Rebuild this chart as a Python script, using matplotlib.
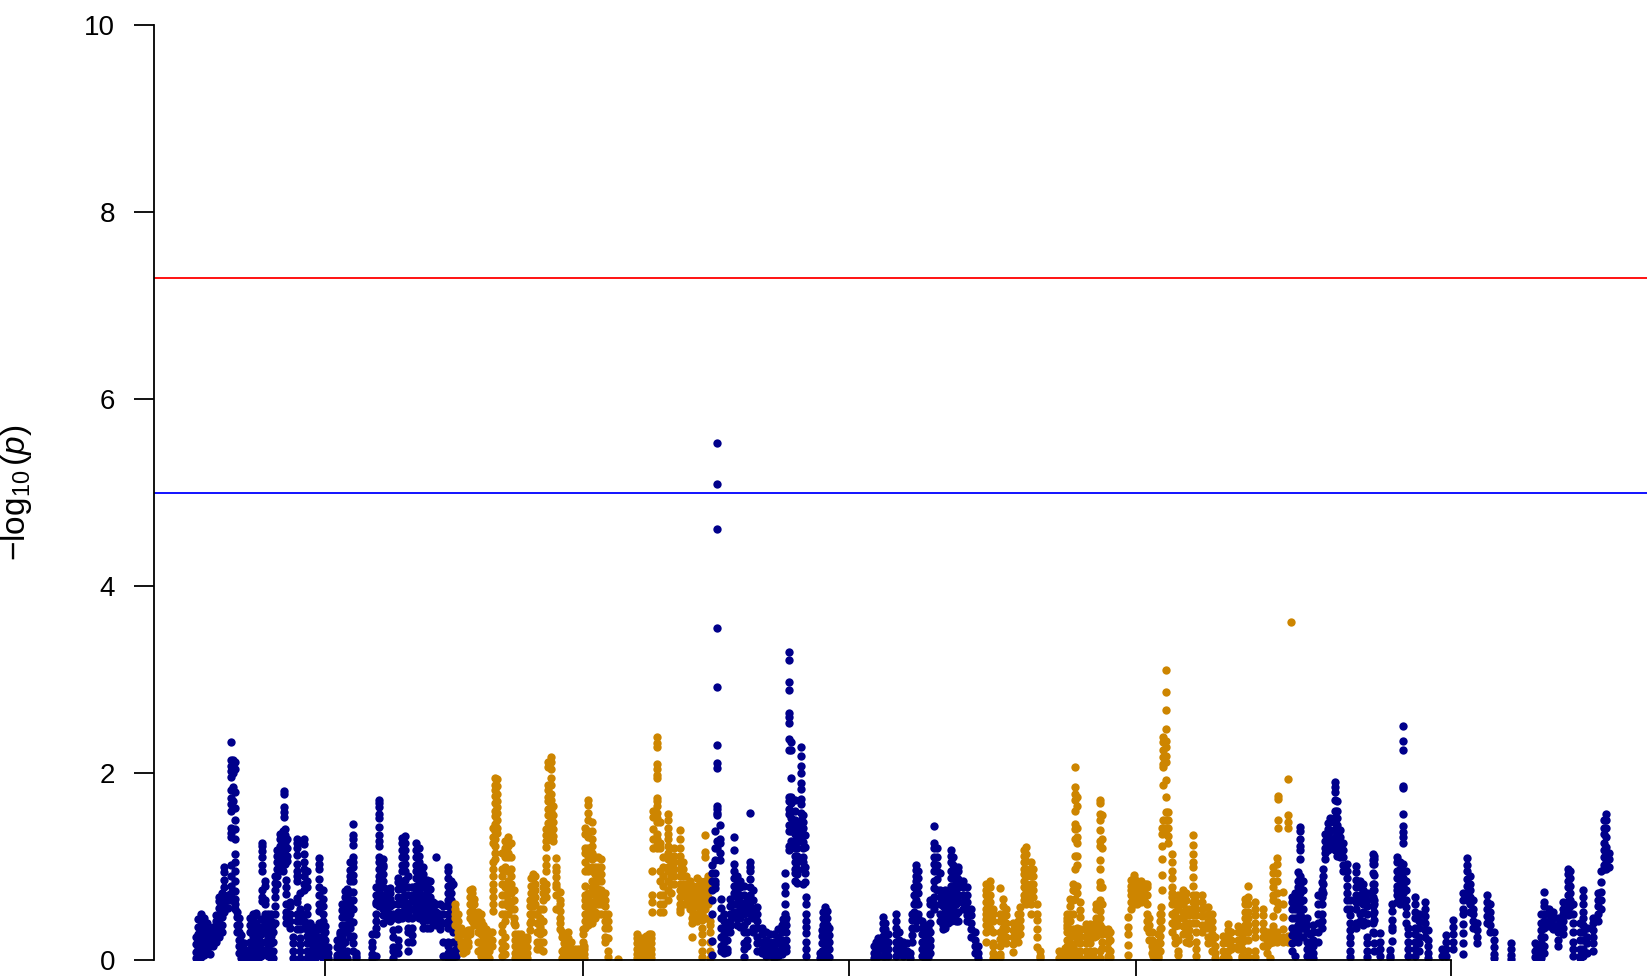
import matplotlib
matplotlib.use("Agg")
import matplotlib.pyplot as plt

plt.rcParams['font.family'] = ['Liberation Sans', 'DejaVu Sans']
plt.rcParams['mathtext.fontset'] = 'custom'
plt.rcParams['mathtext.rm'] = 'Liberation Sans'
plt.rcParams['mathtext.it'] = 'Liberation Sans:italic'
plt.rcParams['mathtext.default'] = 'regular'

NAVY = '#00008B'
GOLD = '#CD8500'
y_ticks = [0, 2, 4, 6, 8, 10]
x_ticks = [324.5, 583, 849, 1135.7, 1451]
suggestive_line = 5.0
genomewide_line = 7.30

# (position, [-log10 p values read at that position])
navy_a = [
(196,[.02,.09,.17,.25]),(198,[.03,.12,.2,.28,.36,.44]),(201,[.03,.1,.18,.26,.34,.42,.49]),(204,[.06,.14,.22,.3,.38,.45]),
(207,[.1,.18,.25,.32,.4]),(210,[.07,.15,.22,.28]),(213,[.15,.22,.3,.36]),(216,[.2,.27,.34,.42,.48]),
(219,[.25,.33,.4,.48,.56,.63,.68]),(222,[.3,.38,.46,.54,.62,.68,.72]),(224,[.52,.6,.68,.78,.86,.94,1.0]),(228,[.56,.64,.7]),
(231,[.65,.72,.8,.9,1.02,1.32,1.36,1.42,1.6,1.67,1.74,1.82,1.96,2.02,2.08,2.14,2.33]),(233,[2.14,2.0,1.85,1.7]),
(235,[.55,.6,.66,.74,.85,.95,1.05,1.14,1.3,1.4,1.5,1.63,1.8,2.05,2.12]),(237,[.3,.38,.46,.52]),(239,[.08,.15,.22,.3,.38,.45]),
(241,[.02,.08,.14,.2,.27]),(244,[.02,.06,.12,.18]),(248,[.02,.06,.1]),(250,[.05,.12,.2,.3,.38,.45]),(253,[.03,.1,.18,.26,.34,.42,.5]),
(256,[.02,.08,.16,.24,.32,.4,.48,.51]),(259,[.03,.1,.18,.26,.34]),(261,[.05,.12,.2,.28,.36,.44]),
(262,[.63,.68,.75,.95,1.02,1.1,1.17,1.22,1.25]),(265,[.1,.2,.3,.4,.5,.6,.65,.8,.85]),(268,[.05,.15,.25,.35,.45,.5]),
(271,[.02,.1,.18,.26,.34,.42,.5]),(273,[.02,.1,.2,.3,.38]),(275,[.4,.5,.58,.68,.75,.83,.9]),(277,[.82,.9,.98,1.05,1.12,1.18]),
(280,[1.0,1.08,1.15,1.22,1.3,1.35]),(283,[.95,1.02,1.1,1.18,1.25,1.32,1.38]),(285,[1.03,1.1,1.18,1.26,1.34,1.4]),
(284,[1.81,1.78,1.64,1.59,1.53]),(287,[1.06,1.12,1.2,1.3]),(286,[.4,.46,.52,.6,.71,.78,.86]),(290,[.35,.42,.5,.58,.62]),
(293,[.02,.1,.18,.25]),(297,[1.3,1.25,1.2,1.13,1.03,.95,.9,.85,.67,.62,.5,.42,.33]),(300,[.02,.1,.17,.24,.33,.42,.5,.55,.72]),
(304,[1.3,1.24,1.14,1.05,.98,.9,.82,.75,.5,.42,.35]),(307,[.02,.1,.18,.26,.33,.4,.5,.57,.95,.85,.78]),(310,[.02,.1,.18,.25,.33,.4]),
(313,[.02,.08,.15,.22,.3,.36]),(316,[.03,.1,.18,.26,.35]),(319,[1.09,1.03,.98,.87,.78,.7,.6,.53,.4,.33,.25,.15,.08]),
(323,[.02,.1,.18,.26,.34,.42,.5,.58,.66,.75]),(325,[.02,.08,.15,.22,.3,.37]),(328,[.02,.08,.14]),(337,[.02,.06,.14,.22]),
(340,[.02,.1,.2,.28,.3]),(342,[.08,.16,.24,.3,.38,.46,.54,.6]),(345,[.2,.3,.38,.46,.54,.6,.68,.74]),
(347,[.02,.1,.3,.38,.46,.55,.62,.7,.76]),(350,[.25,.35,.42,.5,.58,.65,.73,.85,.9,.97,1.05]),
(353,[1.46,1.34,1.3,1.23,1.1,1.05,1.0,.91,.85,.73,.64,.55,.41,.26,.18,.1]),(356,[.02,.08,.05]),(372,[.02,.07,.14,.2,.28]),
(376,[.05,.35,.28,.42,.5,.6,.62,.7,.78]),(379,[1.72,1.68,1.64,1.57,1.52,1.43,1.34,1.28,1.22,1.1,1.05,.98,.9,.85,.78,.72,.65,.58]),
(383,[.4,.48,.55,.62,.7,.78,.85,.92,1.0,1.08,1.02]),(387,[.45,.52,.6,.68,.76,.55,.7]),(390,[.42,.5,.58,.66,.72,.77]),
(393,[.02,.1,.14,.25,.32,.45,.5,.6]),(398,[.08,.15,.22,.33,.44,.52,.6,.68,.76,.84,.88]),
(402,[.45,.52,.6,.68,.76,.84,.95,1.02,1.1,1.18,1.26,1.31]),(405,[.55,.62,.7,.78,.86,.95,1.03,1.1,1.18,1.26,1.33]),
(408,[.1,.2,.3,.35,.45,.5,.6,.7,.78,.9]),(412,[.2,.27,.35,.45,.55,.63,.7,.78]),(416,[1.25,1.18,1.1,1.02,.95,.88,.8,.72,.65,.58,.5]),
(419,[1.2,1.12,1.05,.98,.9,.82,.75,.68,.6,.52,.45]),(423,[1.0,.92,.85,.78,.7,.62,.55,.48,.42,.35]),(427,[.35,.43,.5,.58,.65,.72,.8,.86]),
(430,[.35,.45,.52,.6,.68,.76,.85]),(433,[.4,.48,.55,.62]),(436,[1.11,.6,.52,.45,.38]),(440,[.34,.42,.5,.6,.4]),(443,[.05,.2,.4,.5,.58]),
(448,[1.0,.95,.88,.8,.72,.65,.58,.5,.42,.35,.2,.15,.08,.02]),(451,[.85,.8,.72,.65,.55,.45,.35]),(453,[.82,.6,.5,.4,.3,.2,.1,.03]),(456,[.3,.2,.12,.05]),
]

gold_a = [
(455,[.6,.55,.5,.45,.38]),(458,[.5,.42,.35,.3,.25]),(461,[.35,.28,.2,.15]),(463,[.28,.2,.12,.08]),(466,[.1,.15,.2,.27]),(468,[.15,.2,.27,.32]),
(470,[.45,.52,.6,.68,.75,.32,.28]),(472,[.42,.5,.58,.66,.72,.76]),(474,[.38,.45,.52,.6,.66]),(478,[.1,.2,.3,.38,.45,.52]),
(481,[.05,.12,.2,.28,.36,.42,.5]),(483,[.0,.06,.14,.22,.3,.38]),(486,[.02,.1,.18,.26,.34]),(489,[.02,.1,.17,.24,.3]),(492,[.15,.22,.3]),
(493,[.53,.6,.68,.75,.82,.9,.98,1.05,1.25,1.32,1.42]),(495,[1.95,1.88,1.82,1.76,1.68,1.6,1.54,1.46,1.38,1.3,1.22,1.15,1.08]),
(497,[1.94,1.86,1.78,1.7,1.64,1.58,1.5,1.42,1.36]),(502,[.05,.12,.2,.3,.38,.5,.6,.7,.82,.9,.98,1.15]),
(505,[.07,.15,.25,.42,.5,.6,.7,.78,1.0,1.1,1.2,1.28]),(508,[1.32,1.27,1.22,1.15,1.1,.95,.85,.75,.65,.58,.5]),
(511,[1.25,1.1,.98,.9,.82,.72,.62,.55]),(514,[.75,.65,.55,.45,.4]),(515,[.02,.08,.15,.22,.28,.38]),(518,[.02,.08,.14,.22,.28]),
(521,[.02,.08,.14,.22,.28]),(524,[.02,.08,.14,.22]),(527,[.02,.08,.14,.22,.25]),(530,[.4,.32,.5,.58,.65]),(531,[.42,.5,.58,.65,.72,.8,.88]),
(533,[.5,.58,.65,.72,.8,.88,.92]),(535,[.5,.6,.68,.75,.82,.9]),(537,[.12,.2,.3,.4,.5]),(540,[.12,.2,.28,.36,.45,.55]),
(543,[.1,.2,.3,.42,.55,.65,.72,.78,.85]),(546,[.68,.75,.82,.95,1.02,1.09,1.21,1.28,1.34,1.4]),
(548,[2.12,2.07,1.88,1.82,1.75,1.7,1.62,1.55,1.47,1.38,1.3]),(551,[2.17,2.12,2.05,1.95,1.88,1.78,1.72,1.66,1.6,1.5,1.42]),
(553,[1.65,1.55,1.48,1.4,1.33,1.28]),(556,[1.09,1.0,.95,.89,.82,.78,.7,.55]),(560,[.73,.64,.6,.53,.45,.4,.34]),(562,[.25,.3,.02,.1]),
(564,[.02,.06,.12,.18,.25]),(568,[.02,.06,.12,.18,.24,.3]),(571,[.02,.06,.12,.2]),(575,[.02,.07,.12]),(578,[.02,.07,.12]),(581,[.02,.07,.12]),
(584,[.02,.07,.12,.15]),(583,[.02,.08,.14,.2,.28,.33]),(585,[.35,.42,.5,.58,.65,.7,.8,.95,1.05,1.15,1.2,1.35,1.42]),
(588,[.38,.45,.52,.6,.67,.72,.95,1.0,1.12,1.2,1.32,1.38,1.5,1.58,1.66,1.71]),(592,[.4,.48,.55,.62,.72,.78,.85,.95,1.0,1.08,1.15,1.22,1.3,1.38,1.48]),
(595,[.45,.52,.6,.7,.78,.85,.92,1.0,1.1]),(598,[.5,.6,.68,.76,.85,.92,1.0,1.1]),(601,[.5,.6,.68,.75,.85,.92,1.0,1.08]),
(605,[.2,.25,.35,.42,.5,.58,.65,.72]),(608,[.03,.1,.24,.35,.42,.5]),(618,[.01]),(637,[.02,.07,.12,.18,.24,.28]),(640,[.02,.07,.12,.18,.24]),
(643,[.02,.07,.12,.18,.24]),(646,[.02,.07,.12,.18,.24,.26]),(649,[.02,.07,.12,.18,.28]),(651,[.02,.07,.12,.18,.24,.28]),(652,[.52,.62,.7,.96]),
(653,[1.6,1.53,1.4,1.3,1.2]),(657,[2.39,2.32,2.28,2.1,2.05,1.98,1.95,1.74,1.7,1.65,1.58,1.52,1.48,1.35,1.3,1.23,1.2]),
(660,[1.25,1.48,.52,.6,.7,.85,.95,1.2]),(663,[.52,.6,.7,.8,.9,1.0,1.1]),(668,[1.57,1.5,1.42,1.35,1.3,1.22,1.15,1.08,1.0,.95,.85,.75,.65]),
(671,[1.1,1.03,.98,.9,.82,.72]),(674,[1.2,1.12,1.05,.98,.9,.82]),(680,[1.39,1.3,1.2,1.12,1.05,.98,.9,.82,.75,.68,.55,.52,.6]),
(683,[1.05,.98,.9,.82,.72,.6]),(686,[.9,.82,.75,.68,.6]),(690,[.85,.78,.7,.62,.55]),(693,[.8,.72,.65,.58,.5,.42]),(692,[.25,.4,.45,.55]),
(697,[.88,.8,.72,.65,.58,.5,.42]),(700,[.85,.78,.7,.62,.55,.5,.45]),(702,[.03,.1,.2,.28,.35,.43,.5,.58,.65,.72,.8]),
(705,[1.34,1.16,1.1,.85,.78,.7,.62,.55,.45]),(708,[.9,.82,.75,.68,.6]),(710,[.02,.1,.2,.3,.38,.42]),
]

navy_b = [
(717,[5.53,5.09,4.61,3.55,2.92,2.3,2.11,2.06,1.65,1.62,1.58,1.55,1.28,1.2]),(715,[1.38,1.2,1.07,.93,.85,.82,.77]),(712,[.64,.5,.21,.06,1.02,.93,.85,.75]),
(720,[1.45,1.3,1.25,1.15,1.07]),(721,[.66,.56,.45,.35,.25,.15,.1]),(724,[.35,.28,.2,.12,.08,.42,.5]),(727,[.38,.3,.22,.12,.09]),(730,[.42,.5,.58,.66,.3,.37]),
(734,[1.32,1.18,1.03,.96,.88,.8,.72,.6,.52,.46]),(737,[.9,.82,.76,.68,.6,.52,.45,.38]),(740,[.85,.78,.7,.62,.55,.45,.36]),
(744,[.8,.7,.6,.5,.38,.3,.18,.12,.03]),(747,[.65,.55,.42,.3,.22,.15]),(750,[1.58,1.05,1.0,.96,.87,.78,.7,.6,.5]),(753,[.75,.65,.55,.45,.35,.3]),
(757,[.57,.5,.42,.35,.25,.18,.1]),(762,[.35,.28,.2,.12,.08]),(766,[.3,.22,.15,.1,.05]),(770,[.28,.2,.12,.06]),(774,[.28,.2,.12,.06,.02]),
(778,[.33,.25,.18,.1,.05]),(782,[.38,.3,.22,.14,.07]),(786,[.45,.38,.3,.22,.14,.1]),(783,[.38,.44]),(785,[.93,.8,.72,.6,.5,.42]),
(789,[3.3,3.21,2.98,2.89,2.65,2.6,2.54,2.37,2.25,1.75,1.7,1.62,1.57,1.45,1.38,1.22,1.18]),(791,[2.34,2.25,1.95,1.75,1.68,1.6,1.52,1.45,1.38,1.28,1.2]),
(795,[1.72,1.6,1.5,1.42,1.35,1.28,1.2,1.12,1.05,.98,.93,.85]),(797,[1.45,1.35,1.28,1.2,1.12,1.05,.98,.92,.83]),
(801,[2.28,2.19,2.08,2.0,1.9,1.83,1.73,1.67,1.58,1.5,1.42,1.35,1.28]),(803,[1.55,1.48,1.42,1.35,1.27,1.2,1.1,1.05,.98,.82]),(805,[1.34,1.21,1.0,.93,.84]),
(806,[.68,.6,.49,.42,.36,.29,.2,.12,.05]),(820,[.02,.08]),(822,[.1,.18,.26,.32,.02,.07]),(823,[.3,.38,.45,.52,.1,.18,.02]),
(825,[.57,.5,.42,.35,.27,.2,.12,.05]),(827,[.53,.45,.38,.3,.22,.14,.06]),(829,[.35,.27,.2,.12,.04]),
(874,[.02,.08,.15]),(876,[.02,.08,.14,.2]),(878,[.05,.12,.18,.24,.15]),(883,[.46,.4,.33,.26,.2,.12,.05]),(885,[.4,.33,.26,.2,.12,.05]),(888,[.28,.2,.12,.05]),
(896,[.5,.42,.35,.28,.2,.12,.05]),(899,[.3,.22,.15,.08]),(903,[.2,.12,.05]),(907,[.18,.1]),(910,[.08,.02]),(912,[.2,.27,.35,.43,.5]),(914,[.6,.52,.48,.7,.78]),
(916,[1.02,.97,.9,.85,.78,.72,.65,.6,.5,.42,.35]),(918,[.95,.88,.8,.72,.6,.5,.45]),(922,[.42,.35,.28,.2,.12,.05]),(925,[.38,.3,.22,.15,.08,.02]),
(928,[.35,.28,.2,.12,.04]),(930,[.3,.22,.15,.08,.4,.5,.6,.65]),(934,[1.44,1.25,1.2,1.1,1.03,.95,.85,.77,.68,.6,.55]),(937,[1.2,1.1,1.02,.95,.87,.75]),
(940,[.93,.75,.68,.6,.5,.42]),(943,[.72,.65,.58,.5,.45,.38,.33]),(945,[.75,.68,.6,.52,.43,.35]),(948,[.7,.62,.55,.48,.4]),
(951,[1.18,1.12,1.05,.95,.88,.8,.72,.65,.58,.5,.42]),(953,[1.1,1.02,.95,.88,.8,.72,.65,.55,.45]),(956,[.9,.82,.75,.68,.6,.5,.42]),
(958,[1.0,.95,.87,.78,.7,.62,.52,.42]),(963,[.85,.78,.7,.62,.55]),(967,[.78,.7,.62,.55,.48,.42]),(971,[.55,.48,.4,.33,.25]),(975,[.3,.22,.15,.08]),(978,[.15,.08,.02]),
]

gold_b = [
(986,[.2,.3,.38,.44,.5,.55,.62,.7,.75,.82]),(990,[.85,.78,.7,.62,.55,.48,.42,.35]),(993,[.15,.18,.08,.02,.3,.42,.5,.55]),(1000,[.77,.03,.07,.15,.23,.3,.42,.5]),
(1003,[.66,.58,.5,.45,.35,.28,.22]),(1006,[.55,.48,.4,.33,.25,.18]),(1013,[.4,.32,.25,.17,.09]),(1018,[.5,.42,.35,.27,.2]),(1020,[.57,.5,.43,.36,.28]),
(1024,[.65,.7,.78,.85,.92,.98,1.05,1.12,1.18]),(1026,[1.21,1.14,1.06,.98,.9,.82,.75,.68,.6]),(1031,[1.05,.98,.9,.82,.75,.68,.6,.5]),(1033,[.98,.9,.82,.75,.68]),
(1037,[.6,.5,.43,.34,.25,.14]),(1040,[.05,.1,.02]),(1059,[.02,.1]),(1065,[.02,.06,.13]),(1067,[.07,.15,.22,.3,.38,.45,.5,.35,.42]),
(1070,[.42,.5,.58,.66,.02,.1,.18,.25]),(1073,[.02,.08,.15,.26,.33,.5,.65,.75,.82]),(1075,[2.07,1.85,1.78,1.72,1.6,1.46,1.4,1.3,1.12,.98,.8,.74,.66]),
(1077,[1.75,1.65,1.42,1.32,1.25,1.12,1.02,.8,.72,.02,.1,.2,.27,.35]),(1080,[.62,.54,.46,.34,.02,.1,.18,.26]),(1086,[.39,.32,.25,.18,.1,.02]),
(1090,[.39,.32,.25,.18,.1,.02]),(1094,[.39,.32,.25,.1,.02]),(1096,[.6,.55,.45,.38,.32,.26]),
(1100,[1.72,1.68,1.57,1.5,1.39,1.28,1.22,1.07,.98,.84,.78,.64,.53,.45,.38,.28,.1,.02]),(1102,[1.55,1.3,1.2,.78,.6,.35,.28,.2,.13]),
(1108,[.34,.27,.2,.12,.05,.02]),(1110,[.3,.22,.1,.03]),(1128,[.06,.16,.28,.36,.46]),(1131,[.55,.62,.7,.75,.8,.86]),(1134,[.6,.68,.75,.82,.88,.91]),
(1137,[.6,.68,.75,.8,.85]),(1141,[.62,.7,.77,.83,.85]),(1145,[.62,.7,.77,.82]),(1147,[.6,.5,.42,.35,.7,.78,.82]),(1149,[.45,.38,.3,.22]),(1152,[.3,.22,.15,.08]),
(1153,[.2,.12,.05]),(1155,[.1,.03,.16]),(1158,[.05,.12,.2,.28,.02]),(1160,[.1,.18,.26,.34,.42,.5]),(1161,[.35,.43,.5,.57]),(1162,[.75,.91,1.08,1.22,1.35,1.42]),
(1163,[2.39,2.33,2.25,2.18,2.1,2.07,1.87,1.42,1.5]),(1166,[3.11,2.87,2.68,2.47,2.35,2.28,2.19,2.12,1.93,1.75,1.59,1.5,1.41,1.35]),(1168,[1.59,1.5,1.42,1.33,1.25]),
(1172,[1.14,1.05,.96,.88,.78,.72,.68,.6,.5,.4,.3]),(1175,[.6,.52,.45,.37,.25,.18]),(1178,[.7,.62,.55,.45,.38,.22,.1,.06]),(1183,[.75,.68,.6,.52,.45,.37,.28]),
(1186,[.72,.65,.55,.48,.4,.32,.2]),(1189,[.55,.48,.4,.32,.25,.18]),(1193,[1.34,1.23,1.14,1.05,1.0,.89,.8,.7,.62,.55,.48,.4]),
(1196,[.7,.62,.55,.48,.4,.3,.2,.12,.05]),(1202,[.7,.62,.55,.47,.38,.3]),(1208,[.57,.5,.42,.35,.25,.18]),(1212,[.5,.42,.35,.28,.2,.1]),(1215,[.25,.15,.08,.02]),
(1223,[.02,.1,.18,.26]),(1228,[.39,.32,.25,.18,.1,.02]),(1231,[.3,.22,.15,.12]),(1238,[.37,.3,.22,.15,.12]),(1242,[.35,.28,.2,.12,.05,.02]),
(1245,[.66,.6,.52,.45,.38,.3,.22]),(1248,[.8,.68,.6,.52,.45,.38,.3,.22,.1,.03]),(1255,[.62,.55,.48,.4,.32,.25,.1,.03]),(1263,[.55,.48,.4,.32,.25,.15]),
(1267,[.3,.22,.15,.08]),(1270,[.3,.24,.18,.02]),(1273,[.47,.37,.25,.2,1.0,.93,.85,.78,.7,.65]),(1277,[1.09,1.03,.93,.85,.72,.62,.55,.3,.24,.2]),
(1278,[1.41,1.5,1.76,1.73]),(1283,[.73,.6,.46,.34,.25,.2]),(1288,[1.94,1.55,1.48,1.41,.2,.26]),(1291,[3.62]),
]

navy_c = [
(1292,[.1,.18,.27,.35,.45,.55,.62,.68]),(1295,[.25,.35,.45,.55,.62,.68,.72,.05]),(1298,[.2,.3,.38,.45,.55,.62,.7,.78,.85,.94]),
(1300,[1.43,1.38,1.3,1.22,1.18,1.08,.9,.82,.72,.62,.5,.35,.25]),(1303,[.85,.75,.65,.55,.4,.25,.35,.45]),(1307,[.45,.38,.3,.2,.12,.05]),(1310,[.28,.2,.12,.05]),
(1313,[.3,.22,.15,.08,.02,.38]),(1318,[.4,.5,.6,.7,.3,.2]),(1322,[.84,.75,.68,.6,.5,.42,.35]),(1323,[.98,.9,.82,.72]),(1325,[1.08,1.15,1.2,1.28,1.35]),
(1328,[1.18,1.25,1.32,1.4,1.47]),(1330,[1.2,1.3,1.38,1.48,1.52]),(1335,[1.91,1.85,1.8,1.72,1.6,1.52,1.48,1.4,1.32,1.25,1.18]),
(1337,[1.7,1.6,1.52,1.45,1.38,1.3,1.22,1.12]),(1340,[1.39,1.32,1.25,1.18,1.1]),(1343,[1.25,1.18,1.1,1.02,.95]),(1347,[1.03,.95,.88,.8,.72,.65,.55]),
(1350,[.65,.55,.48,.4,.32,.25,.18,.1,.03]),(1356,[1.01,.94,.86,.78,.7,.62,.55,.4,.35]),(1360,[.85,.78,.7,.62,.5,.42]),(1363,[.82,.75,.68,.6,.52,.42,.38]),
(1367,[.72,.65,.58,.5,.4,.25,.18,.1,.03]),(1373,[1.14,1.07,1.03,.93,.82,.75,.68,.58,.5,.4,.3]),(1374,[1.12,1.08,1.03,.91,.82,.75,.64,.6,.52,.43,.29,.18,.1]),
(1380,[.29,.2,.12,.05]),(1390,[.11,.05,.02]),(1392,[.6,.53,.43,.36,.32,.21]),(1397,[1.1,1.05,.96,.88,.8,.75,.7,.62]),(1400,[1.05,.98,.9,.82,.75,.68,.6]),
(1403,[2.51,2.35,2.25,1.86,1.84,1.57,1.44,1.37,1.32,1.25,1.03,.95,.88,.8,.72]),(1406,[.95,.85,.75,.65,.57,.5,.4]),(1408,[.35,.28,.2,.12,.05]),
(1415,[.68,.6,.52,.45,.35,.28,.2,.12,.05]),(1419,[.5,.42,.35,.25,.18,.1]),(1425,[.62,.55,.47,.4,.32,.25]),(1428,[.22,.15,.08,.02,.32]),(1442,[.12,.05]),
(1446,[.27,.2,.12,.05]),(1453,[.43,.36,.28,.2,.12]),(1463,[.07,.18,.29,.39,.5,.55,.64,.72]),(1467,[1.09,1.02,.95,.87,.8,.72,.65]),(1470,[.9,.82,.75,.68,.6,.52]),
(1473,[.65,.55,.5,.42,.35]),(1477,[.4,.32,.25,.18]),(1487,[.7,.62,.55,.47,.4]),(1490,[.6,.52,.45,.38,.3]),(1494,[.3,.22,.14,.07,.02]),(1511,[.18,.12,.06,.01]),
(1535,[.18,.1,.03]),(1537,[.02,.08,.14]),(1541,[.02,.1,.18,.25,.32,.4,.5]),(1544,[.73,.62,.58,.5,.42,.35,.25,.15,.08]),(1549,[.55,.5,.42,.37]),(1553,[.52,.45,.38,.34]),
(1558,[.45,.38,.3,.22,.15]),(1563,[.5,.42,.35,.28,.55,.62]),(1568,[.98,.92,.85,.78,.7,.62,.55,.48]),(1570,[.95,.88,.8,.72,.65,.58,.5]),(1573,[.6,.5,.4,.3,.2,.12,.05]),
(1580,[.4,.3,.22,.12,.05,.02]),(1583,[.75,.68,.6,.52,.45,.38,.3,.22,.12,.05]),(1587,[.35,.25,.18,.08]),(1593,[.45,.4,.32,.25,.18,.1]),(1598,[.72,.65,.58,.5,.42]),
(1601,[.96,.84,.73,.65,.55]),(1604,[1.5,1.42,1.35,1.25,1.18,1.1,1.02,.98]),(1606,[1.57,1.5,1.42,1.32,1.21,1.12,1.05,.98]),(1609,[1.15,1.08,1.0]),
]

W, H = 1647, 976
LEFT, TOP, BOTTOM = 153.9, 25.5, 960.3
fig = plt.figure(figsize=(W / 100, H / 100), dpi=100, facecolor='white')
ax = fig.add_axes([LEFT / W, (H - BOTTOM) / H, (W - LEFT) / W, (BOTTOM - TOP) / H])
ax.set_xlim(LEFT, W)
ax.set_ylim(0, 10)

for columns, colour in [(navy_a, NAVY), (gold_a, GOLD), (navy_b, NAVY), (gold_b, GOLD), (navy_c, NAVY)]:
    xs = [x for x, ys in columns for _ in ys]
    ys = [y for _, values in columns for y in values]
    ax.plot(xs, ys, ls='none', marker='o', ms=6.0, mew=0, color=colour, zorder=2)

ax.axhline(genomewide_line, color='#FF0000', lw=1.3, zorder=3)
ax.axhline(suggestive_line, color='#0000FF', lw=1.3, zorder=3)

for side in ('top', 'right'):
    ax.spines[side].set_visible(False)
ax.spines['left'].set_bounds(0, 10)
ax.spines['bottom'].set_bounds(x_ticks[0], x_ticks[-1])
for side in ('left', 'bottom'):
    ax.spines[side].set_linewidth(1.3)
    ax.spines[side].set_zorder(5)
ax.set_yticks(y_ticks)
ax.set_xticks(x_ticks)
ax.set_xticklabels([])
ax.tick_params(axis='y', length=14.4, width=1.3, pad=13.5, labelsize=20)
ax.tick_params(axis='x', length=14.4, width=1.3)

fig.text(16 / W, 1 - 493 / H, r'$-\log_{10}(\mathit{p})$', rotation=90, ha='center', va='center', fontsize=24)
fig.savefig('out.png', dpi=100)
